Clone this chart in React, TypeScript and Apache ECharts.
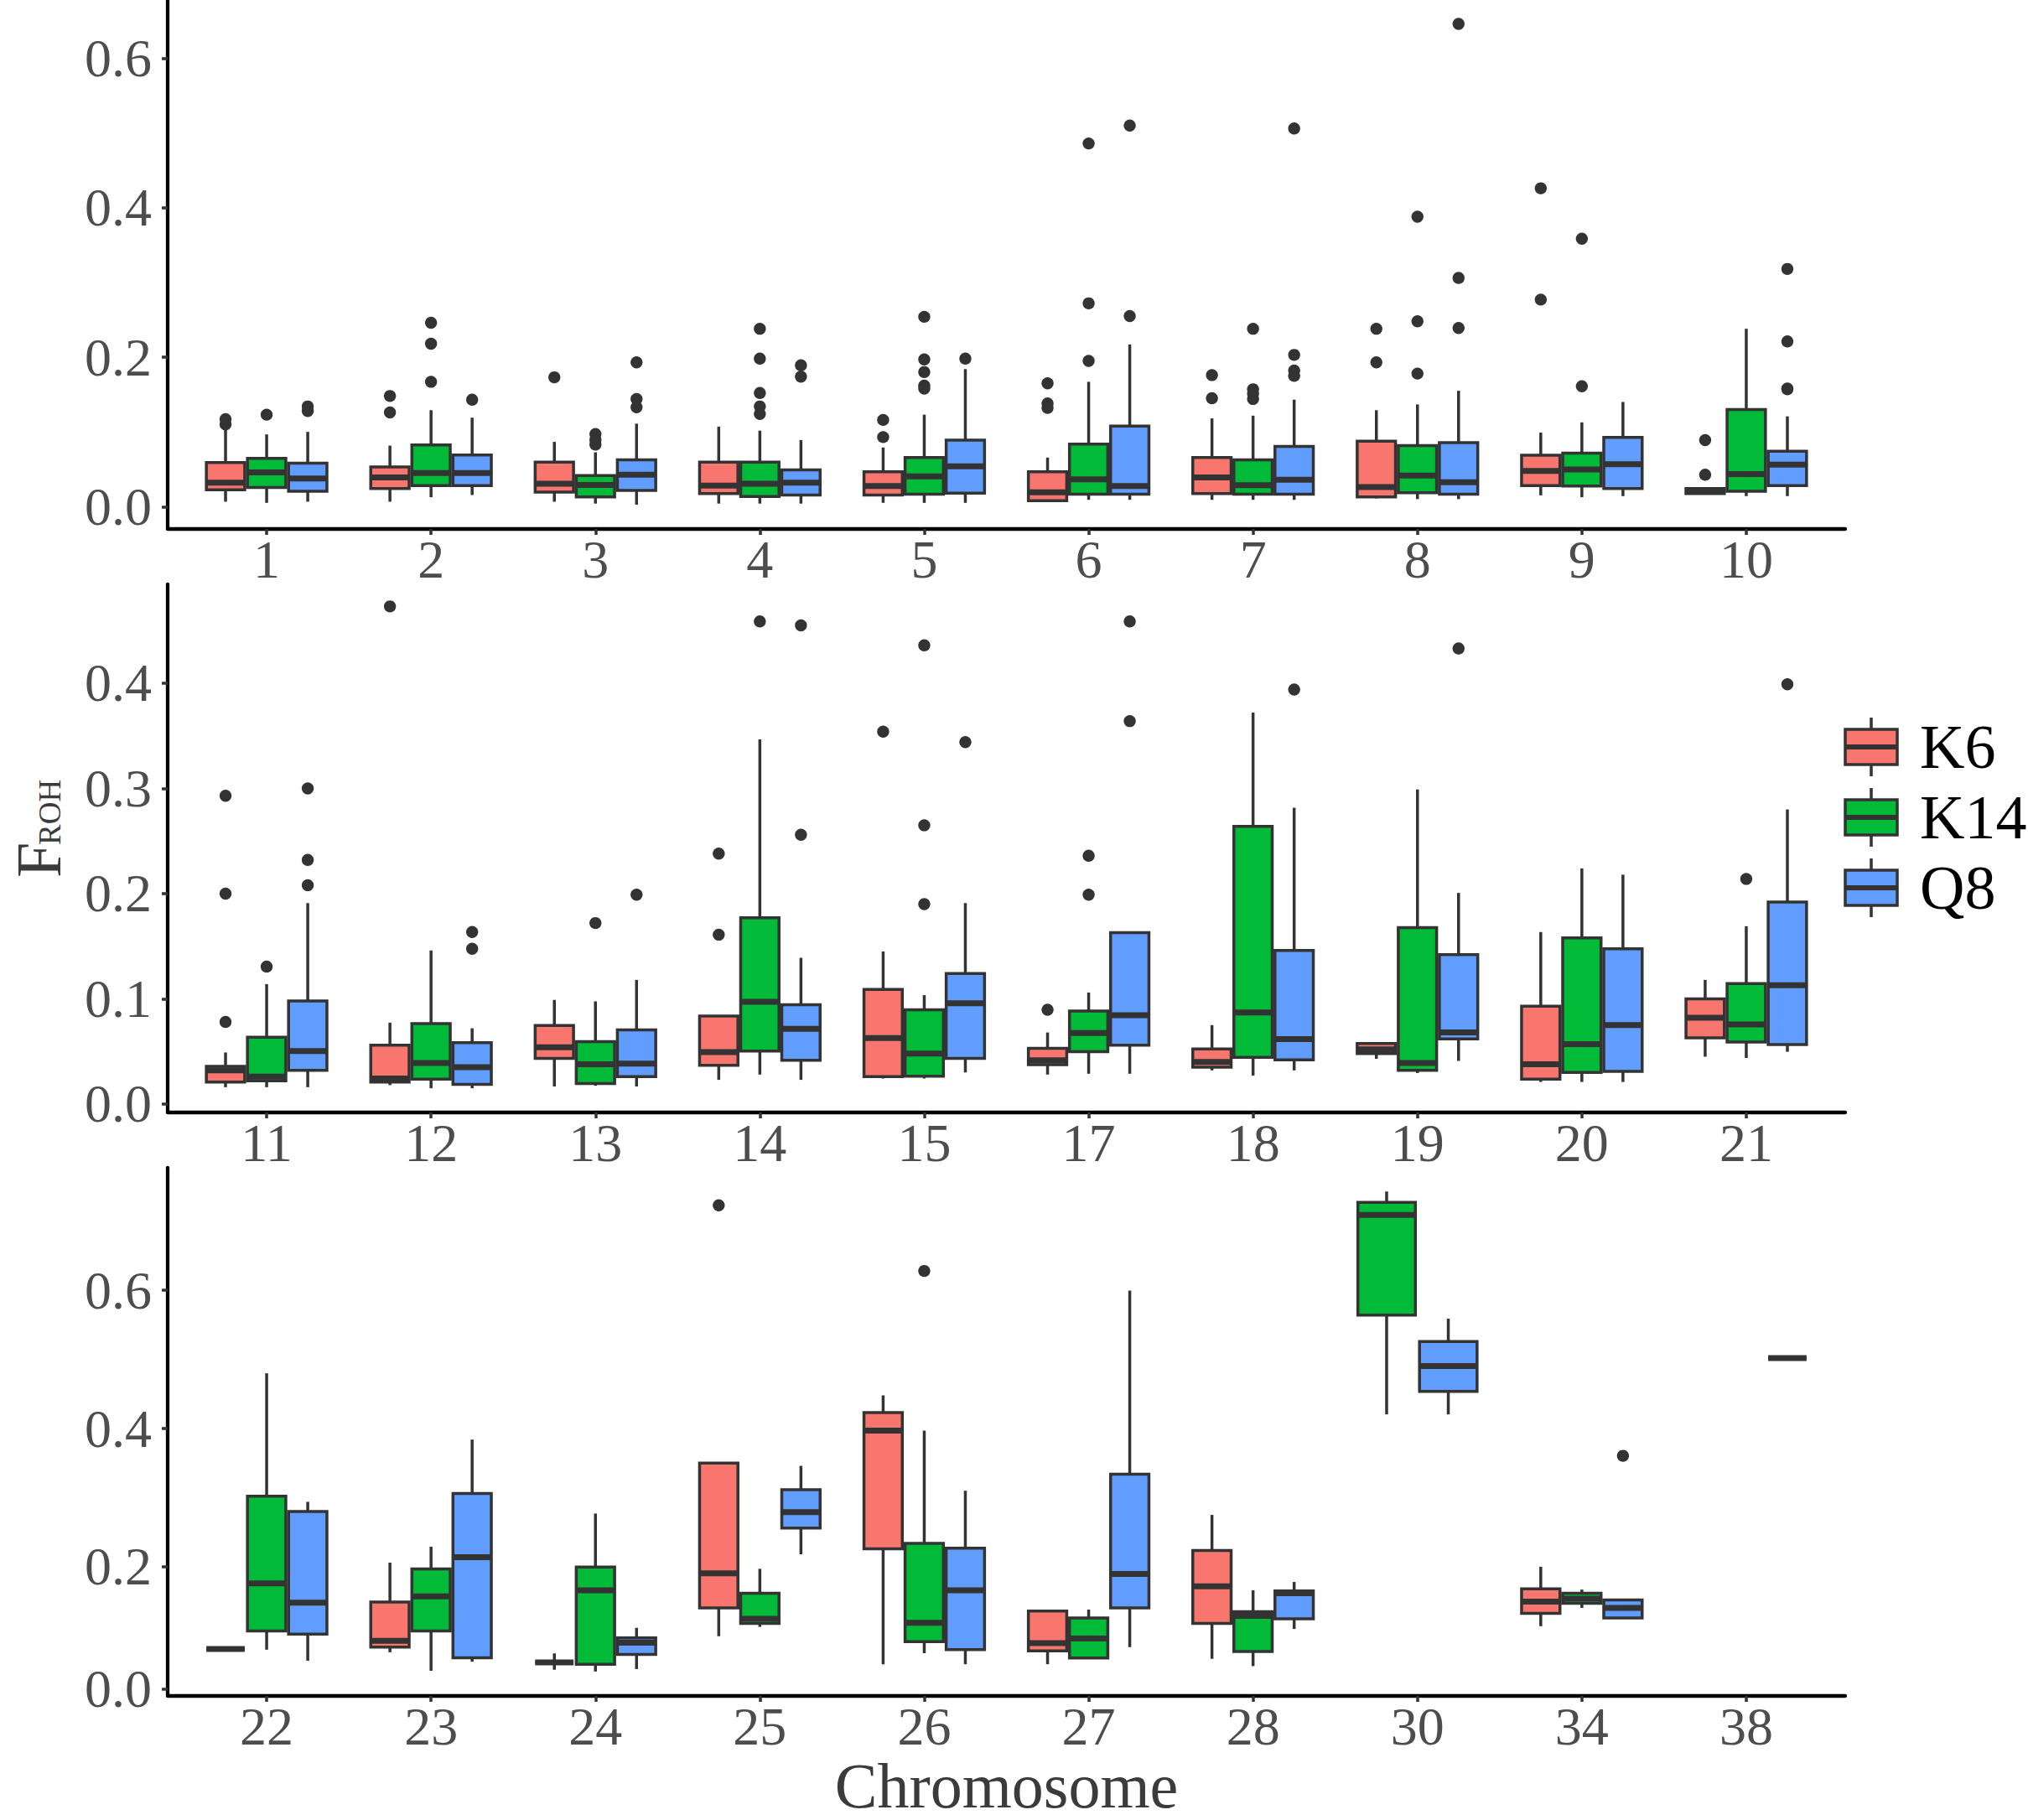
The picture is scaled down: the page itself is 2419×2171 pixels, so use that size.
import React, { useEffect, useRef } from 'react';
import * as echarts from 'echarts';

const GROUPS = ['K6', 'K14', 'Q8'];
const COLORS = ['#F8766D', '#00BA38', '#619CFF'];
const FONT = "'Liberation Serif', 'Times New Roman', serif";

// ---------- categories ----------
const catsTop = ['1', '2', '3', '4', '5', '6', '7', '8', '9', '10'];
const catsMid = ['11', '12', '13', '14', '15', '17', '18', '19', '20', '21'];
const catsBot = ['22', '23', '24', '25', '26', '27', '28', '30', '34', '38'];

// ---------- tick values / labels ----------
const ticksTop = [0, 0.2, 0.4, 0.6];
const tickLabelsTop = ['0.0', '0.2', '0.4', '0.6'];
const ticksMid = [0, 0.1, 0.2, 0.3, 0.4];
const tickLabelsMid = ['0.0', '0.1', '0.2', '0.3', '0.4'];
const ticksBot = [0.023, 0.2, 0.4, 0.6];
const tickLabelsBot = ['0.0', '0.2', '0.4', '0.6'];

// box stats: [lower whisker, Q1, median, Q3, upper whisker]; null = group absent; [] = slot kept, no box
const k6Top = [
  [0.0065, 0.0225, 0.032, 0.059, 0.107],
  [0.0065, 0.024, 0.039, 0.053, 0.0816],
  [0.0065, 0.0195, 0.0305, 0.0596, 0.0866],
  [0.004, 0.0175, 0.028, 0.0596, 0.107],
  [0.005, 0.0155, 0.0275, 0.0466, 0.079],
  [0.008, 0.008, 0.019, 0.0466, 0.0656],
  [0.009, 0.0175, 0.039, 0.0656, 0.118],
  [0.011, 0.013, 0.026, 0.0876, 0.129],
  [0.015, 0.028, 0.0476, 0.0686, 0.099],
  [0.0175, 0.0175, 0.0205, 0.024, 0.024],
];
const k6TopOut = [[0.117, 0.11], [0.148, 0.126], [0.173], [], [0.116, 0.093], [0.165, 0.138, 0.132], [0.176, 0.145], [0.238, 0.193], [0.426, 0.277], [0.089, 0.0426]];
const k14Top = [
  [0.005, 0.0255, 0.0456, 0.0646, 0.0966],
  [0.0125, 0.028, 0.045, 0.0826, 0.129],
  [0.004, 0.013, 0.029, 0.0416, 0.0726],
  [0.004, 0.0135, 0.0305, 0.0596, 0.1016],
  [0.005, 0.0165, 0.0405, 0.0656, 0.123],
  [0.009, 0.0165, 0.0366, 0.0836, 0.167],
  [0.009, 0.0165, 0.0285, 0.0626, 0.1217],
  [0.01, 0.0185, 0.0415, 0.0816, 0.1367],
  [0.0125, 0.0275, 0.0496, 0.0716, 0.1127],
  [0.014, 0.0205, 0.0436, 0.13, 0.238],
];
const k14TopOut = [[0.123], [0.246, 0.218, 0.167], [0.097, 0.089, 0.083], [0.238, 0.198, 0.152, 0.134, 0.124], [0.254, 0.197, 0.18, 0.162, 0.158], [0.486, 0.272, 0.195], [0.238, 0.157, 0.151, 0.144], [0.388, 0.248, 0.178], [0.3585, 0.161], []];
const q8Top = [
  [0.0065, 0.0205, 0.0376, 0.058, 0.1],
  [0.0155, 0.028, 0.045, 0.069, 0.119],
  [0.0025, 0.0215, 0.0426, 0.0626, 0.111],
  [0.004, 0.0155, 0.032, 0.049, 0.089],
  [0.005, 0.018, 0.054, 0.089, 0.184],
  [0.009, 0.0165, 0.0275, 0.1077, 0.217],
  [0.009, 0.0165, 0.036, 0.0806, 0.143],
  [0.01, 0.0165, 0.0325, 0.0856, 0.155],
  [0.014, 0.024, 0.0566, 0.0926, 0.14],
  [0.014, 0.028, 0.056, 0.074, 0.1207],
];
const q8TopOut = [[0.134, 0.128], [0.143], [0.193, 0.144, 0.133], [0.189, 0.174], [0.198], [0.51, 0.255], [0.506, 0.203, 0.182, 0.175], [0.646, 0.306, 0.239], [], [0.318, 0.221, 0.158, 0.157]];

const k6Mid = [
  [0.016, 0.0208, 0.032, 0.0358, 0.049],
  [0.018, 0.0208, 0.0243, 0.056, 0.0774],
  [0.0167, 0.0434, 0.054, 0.0747, 0.099],
  [0.023, 0.0368, 0.0493, 0.0837, 0.0837],
  [0.0243, 0.026, 0.0628, 0.109, 0.145],
  [0.028, 0.0375, 0.0417, 0.053, 0.068],
  [0.032, 0.035, 0.04, 0.0524, 0.075],
  [0.043, 0.048, 0.052, 0.0576, 0.0576],
  [0.021, 0.0236, 0.0378, 0.093, 0.1635],
  [0.045, 0.063, 0.082, 0.1, 0.118],
];
const k6MidOut = [[0.293, 0.2, 0.078], [0.473], [], [0.238, 0.161], [0.354], [0.0896], [], [], [], []];
const k14Mid = [
  [0.016, 0.022, 0.026, 0.0635, 0.114],
  [0.015, 0.0236, 0.039, 0.0764, 0.146],
  [0.0174, 0.0194, 0.0378, 0.0594, 0.0976],
  [0.028, 0.0503, 0.0972, 0.177, 0.3465],
  [0.0243, 0.0264, 0.048, 0.0896, 0.1035],
  [0.0288, 0.0497, 0.0674, 0.0885, 0.106],
  [0.027, 0.0444, 0.087, 0.264, 0.372],
  [0.0295, 0.032, 0.039, 0.1677, 0.299],
  [0.021, 0.03, 0.057, 0.158, 0.224],
  [0.0438, 0.059, 0.0757, 0.1146, 0.169],
];
const k14MidOut = [[0.1306], [], [0.172], [0.4587], [0.436, 0.265, 0.19], [0.236, 0.199], [], [], [], [0.214]];
const q8Mid = [
  [0.016, 0.032, 0.0503, 0.098, 0.191],
  [0.015, 0.0187, 0.035, 0.0583, 0.072],
  [0.0167, 0.026, 0.0385, 0.0705, 0.118],
  [0.023, 0.0417, 0.0715, 0.0944, 0.139],
  [0.03, 0.0434, 0.0958, 0.124, 0.191],
  [0.0288, 0.056, 0.0844, 0.163, 0.163],
  [0.032, 0.042, 0.0618, 0.146, 0.2816],
  [0.041, 0.062, 0.068, 0.142, 0.2007],
  [0.021, 0.031, 0.075, 0.1476, 0.218],
  [0.0497, 0.0566, 0.113, 0.192, 0.28],
];
const q8MidOut = [[0.3, 0.232, 0.208], [0.1635, 0.1476], [0.199], [0.455, 0.256], [0.344], [0.4587, 0.364], [0.394], [0.433], [], [0.399]];

const k6Bot = [
  [0.081, 0.081, 0.081, 0.081, 0.081],
  [0.0763, 0.0837, 0.093, 0.149, 0.206],
  [0.051, 0.0616, 0.0616, 0.0616, 0.0747],
  [0.0995, 0.1405, 0.1905, 0.35, 0.35],
  [0.059, 0.226, 0.397, 0.423, 0.448],
  [0.059, 0.0784, 0.0895, 0.136, 0.136],
  [0.0668, 0.118, 0.1716, 0.2237, 0.275],
  null,
  [0.114, 0.1326, 0.1495, 0.168, 0.2],
  [],
];
const k6BotOut = [[], [], [], [0.723], [], [], [], [], [], []];
const k14Bot = [
  [0.08, 0.107, 0.176, 0.302, 0.48],
  [0.0495, 0.107, 0.157, 0.197, 0.229],
  [0.0484, 0.059, 0.166, 0.1995, 0.277],
  [0.113, 0.118, 0.1247, 0.1616, 0.197],
  [0.075, 0.0916, 0.119, 0.234, 0.397],
  [0.068, 0.068, 0.0963, 0.1258, 0.138],
  [0.0563, 0.0774, 0.129, 0.135, 0.166],
  [0.4205, 0.564, 0.709, 0.7274, 0.743],
  [0.1405, 0.147, 0.1537, 0.1616, 0.167],
  [],
];
const k14BotOut = [[], [], [], [], [0.628], [], [], [], [], []];
const q8Bot = [
  [0.064, 0.1026, 0.148, 0.28, 0.294],
  [0.0626, 0.0684, 0.214, 0.306, 0.384],
  [0.052, 0.073, 0.09, 0.097, 0.1116],
  [0.218, 0.256, 0.279, 0.3116, 0.346],
  [0.059, 0.08, 0.166, 0.227, 0.31],
  [0.0837, 0.1405, 0.1895, 0.334, 0.5995],
  [0.11, 0.1247, 0.1616, 0.165, 0.178],
  [0.4205, 0.4537, 0.4905, 0.526, 0.559],
  [0.1258, 0.1258, 0.1405, 0.152, 0.152],
  [0.502, 0.502, 0.502, 0.502, 0.502],
];
const q8BotOut = [[], [], [], [], [], [], [], [], [0.3605], []];

// ---------- layout ----------
const PANELS = [
  { cats: catsTop, stats: [k6Top, k14Top, q8Top], outs: [k6TopOut, k14TopOut, q8TopOut], top: 0, height: 631, min: -0.03, max: 0.678, ticks: ticksTop, labels: tickLabelsTop },
  { cats: catsMid, stats: [k6Mid, k14Mid, q8Mid], outs: [k6MidOut, k14MidOut, q8MidOut], top: 697, height: 630, min: -0.008, max: 0.494, ticks: ticksMid, labels: tickLabelsMid },
  { cats: catsBot, stats: [k6Bot, k14Bot, q8Bot], outs: [k6BotOut, k14BotOut, q8BotOut], top: 1393, height: 630, min: 0.0131, max: 0.7773, ticks: ticksBot, labels: tickLabelsBot },
];

const DODGE = 0.75;
const BOX_W = 0.7;
const LINE_C = '#333333';
const BOX_LW = 3.5;
const MED_LW = 7;

type Slot = { j: number; n: number };

function slotFor(stats: (number[] | null)[][], g: number, i: number): Slot {
  const present: number[] = [];
  for (let k = 0; k < stats.length; k++) if (stats[k][i] !== null) present.push(k);
  return { j: present.indexOf(g), n: present.length };
}

function centerOf(api: any, cat: number, s: Slot) {
  const c = api.coord([cat, 0])[0];
  const band = api.size([1, 0])[0];
  const cx = c + (-DODGE / 2 + (DODGE / s.n) * (s.j + 0.5)) * band;
  const hw = ((BOX_W / s.n) * band) / 2;
  return { cx, hw };
}

function buildSeries() {
  const series: any[] = [];
  PANELS.forEach((p, pi) => {
    GROUPS.forEach((name, g) => {
      const boxData: number[][] = [];
      const boxSlots: Slot[] = [];
      const outData: number[][] = [];
      const outSlots: Slot[] = [];
      p.cats.forEach((_, i) => {
        const st = p.stats[g][i];
        if (st === null) return;
        const s = slotFor(p.stats as any, g, i);
        if (st.length === 5) {
          boxData.push([i, ...st]);
          boxSlots.push(s);
        }
        (p.outs[g][i] || []).forEach((v: number) => {
          outData.push([i, v]);
          outSlots.push(s);
        });
      });
      const color = COLORS[g];
      series.push({
        type: 'custom',
        name,
        xAxisIndex: pi,
        yAxisIndex: pi,
        encode: { x: 0, y: [1, 2, 3, 4, 5] },
        data: boxData,
        renderItem: (params: any, api: any) => {
          const s = boxSlots[params.dataIndex];
          const cat = api.value(0);
          const { cx, hw } = centerOf(api, cat, s);
          const y = (k: number) => api.coord([cat, api.value(k)])[1];
          const yLow = y(1), yQ1 = y(2), yMed = y(3), yQ3 = y(4), yHigh = y(5);
          const ls = { stroke: LINE_C, lineWidth: BOX_LW };
          return {
            type: 'group',
            children: [
              { type: 'line', shape: { x1: cx, y1: yHigh, x2: cx, y2: yQ3 }, style: ls },
              { type: 'line', shape: { x1: cx, y1: yQ1, x2: cx, y2: yLow }, style: ls },
              { type: 'rect', shape: { x: cx - hw, y: yQ3, width: hw * 2, height: yQ1 - yQ3 }, style: { fill: color, stroke: LINE_C, lineWidth: BOX_LW } },
              { type: 'line', shape: { x1: cx - hw, y1: yMed, x2: cx + hw, y2: yMed }, style: { stroke: LINE_C, lineWidth: MED_LW } },
            ],
          };
        },
        z: 2,
      });
      series.push({
        type: 'custom',
        name: name + ' outliers',
        xAxisIndex: pi,
        yAxisIndex: pi,
        encode: { x: 0, y: 1 },
        data: outData,
        renderItem: (params: any, api: any) => {
          const s = outSlots[params.dataIndex];
          const cat = api.value(0);
          const { cx } = centerOf(api, cat, s);
          const yv = api.coord([cat, api.value(1)])[1];
          return { type: 'circle', shape: { cx, cy: yv, r: 7.2 }, style: { fill: LINE_C } };
        },
        z: 3,
      });
    });
  });
  return series;
}

function buildOption() {
  const grids: any[] = [];
  const xAxes: any[] = [];
  const yAxes: any[] = [];
  PANELS.forEach((p, pi) => {
    grids.push({ left: 220, right: 238, top: p.top, height: p.height, containLabel: false, outerBoundsMode: 'none' });
    xAxes.push({
      type: 'category',
      gridIndex: pi,
      data: p.cats,
      boundaryGap: true,
      axisLine: { show: false, onZero: false },
      axisTick: { show: true, alignWithLabel: true, length: 7, lineStyle: { color: LINE_C, width: 3.5 } },
      axisLabel: { show: true, interval: 0, fontSize: 64, color: '#4D4D4D', margin: 4, fontFamily: FONT },
      splitLine: { show: false },
      ...(pi === 2
        ? {
            name: 'Chromosome',
            nameLocation: 'middle',
            nameGap: 99,
            nameTextStyle: { fontSize: 76, color: '#3B3B3B', fontFamily: FONT, verticalAlign: 'middle' },
          }
        : {}),
    });
    const ticks = p.ticks;
    const labels = p.labels;
    yAxes.push({
      type: 'value',
      gridIndex: pi,
      min: p.min,
      max: p.max,
      offset: 20,
      axisLine: { show: true, onZero: false, lineStyle: { color: '#000000', width: 4.3 } },
      axisTick: { show: true, length: 7, lineStyle: { color: LINE_C, width: 3.5 }, customValues: ticks },
      axisLabel: {
        show: true,
        customValues: ticks,
        fontSize: 64,
        color: '#4D4D4D',
        margin: 19,
        fontFamily: FONT,
        formatter: (v: number) => {
          let best = 0;
          ticks.forEach((t, k) => {
            if (Math.abs(t - v) < Math.abs(ticks[best] - v)) best = k;
          });
          return labels[best];
        },
      },
      splitLine: { show: false },
    });
  });
  // axis line grids (x axis line runs the full expanded panel width)
  PANELS.forEach((p, pi) => {
    grids.push({ left: 200, right: 218, top: p.top, height: p.height, containLabel: false, outerBoundsMode: 'none' });
    xAxes.push({
      type: 'value',
      gridIndex: 3 + pi,
      min: 0,
      max: 1,
      axisLine: { show: true, onZero: false, lineStyle: { color: '#000000', width: 4.3 } },
      axisTick: { show: false },
      axisLabel: { show: false },
      splitLine: { show: false },
    });
    yAxes.push({ type: 'value', gridIndex: 3 + pi, min: 0, max: 1, show: false });
  });

  const legendEls: any[] = [];
  GROUPS.forEach((name, g) => {
    const cy = 891 + 84 * g;
    legendEls.push(
      { type: 'line', shape: { x1: 2232, y1: cy - 35, x2: 2232, y2: cy - 21 }, style: { stroke: LINE_C, lineWidth: BOX_LW } },
      { type: 'line', shape: { x1: 2232, y1: cy + 21, x2: 2232, y2: cy + 35 }, style: { stroke: LINE_C, lineWidth: BOX_LW } },
      { type: 'rect', shape: { x: 2201, y: cy - 21, width: 62, height: 42 }, style: { fill: COLORS[g], stroke: LINE_C, lineWidth: BOX_LW } },
      { type: 'line', shape: { x1: 2201, y1: cy, x2: 2263, y2: cy }, style: { stroke: LINE_C, lineWidth: 6 } },
      { type: 'text', x: 2290, y: cy, style: { text: name, fontSize: 74, lineHeight: 74, fontFamily: FONT, fill: '#000000', align: 'left', verticalAlign: 'middle' } }
    );
  });

  const yTitle = {
    type: 'group',
    x: 46,
    y: 1047,
    rotation: Math.PI / 2,
    children: [
      { type: 'text', x: 0, y: 0, style: { text: 'F', fontSize: 76, lineHeight: 60, fontFamily: FONT, fill: '#3B3B3B', align: 'left', verticalAlign: 'middle' } },
      { type: 'text', x: 39, y: 13, style: { text: 'ROH', fontSize: 37, lineHeight: 34, fontFamily: FONT, fill: '#3B3B3B', align: 'left', verticalAlign: 'middle' } },
    ],
  };

  return {
    animation: false,
    backgroundColor: '#ffffff',
    textStyle: { fontFamily: FONT },
    grid: grids,
    xAxis: xAxes,
    yAxis: yAxes,
    series: buildSeries(),
    graphic: [...legendEls, yTitle],
  };
}

export default function App() {
  const ref = useRef<HTMLDivElement>(null);
  useEffect(() => {
    if (!ref.current) return;
    const chart = echarts.init(ref.current, undefined, { renderer: 'svg' });
    chart.setOption(buildOption() as any);
    return () => chart.dispose();
  }, []);
  return (
    <div
      ref={ref}
      style={{ position: 'absolute', left: 0, top: 0, width: 2419, height: 2171, background: '#ffffff' }}
    />
  );
}
